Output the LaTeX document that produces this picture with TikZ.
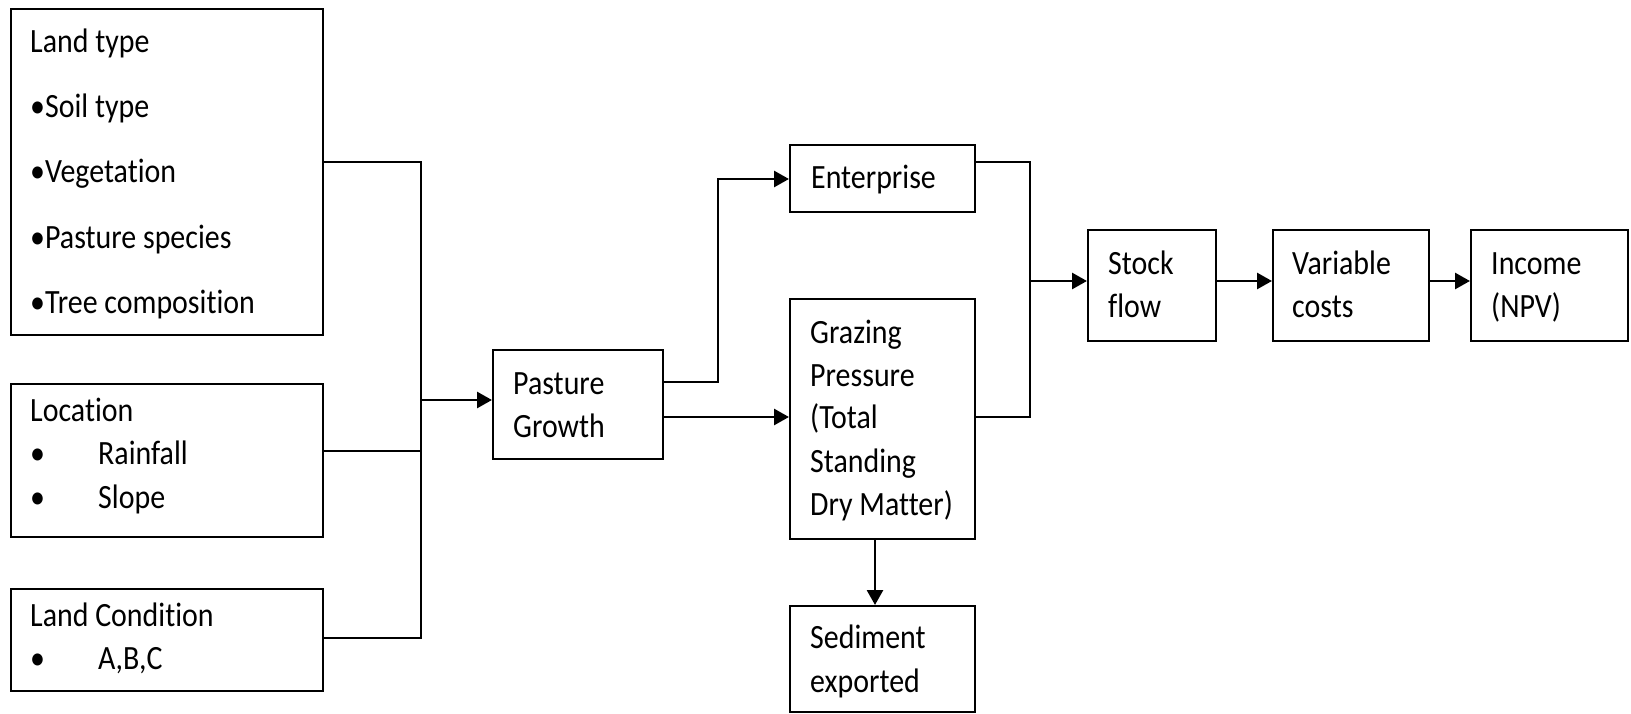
\documentclass[tikz,border=0pt]{standalone}
\usepackage{fontspec}
\setmainfont{Carlito}[FakeStretch=0.88, RawFeature={-liga}]
\usetikzlibrary{arrows.meta}
\tikzset{
  box/.style={draw=black, line width=2.3pt, fill=none, inner sep=0pt, anchor=north west},
  txt/.style={inner sep=0pt, anchor=base west, font=\fontsize{34}{40}\selectfont},
  link/.style={draw=black, line width=2.1pt},
  arr/.style={draw=black, line width=2.8pt, -{Triangle[length=15pt,width=16pt]}},
}
\newcommand{\mkbox}[5]{\node[box, minimum width=#4-#2, minimum height=#5-#3] (#1) at (#2,-#3) {};}
\begin{document}
\begin{tikzpicture}[x=1pt,y=1pt]
\useasboundingbox (0,0) rectangle (1631,-714);
% boxes
\mkbox{land}{9.5}{8}{322}{334}
\mkbox{loc}{9.5}{383}{322}{536}
\mkbox{cond}{9.5}{588}{322}{690}
\mkbox{past}{492}{349}{662}{458}
\mkbox{ent}{789}{144}{974}{211}
\mkbox{graz}{789}{298}{974}{538}
\mkbox{sed}{789}{605}{974}{711}
\mkbox{stock}{1087}{229}{1215}{340}
\mkbox{var}{1272}{229}{1428}{340}
\mkbox{inc}{1470}{229}{1627}{340}
% texts
\node[txt] (t1) at (30,-53) {Land type};
\node[txt] (t2) at (30,-118) {•Soil type};
\node[txt] (t3) at (30,-183) {•Vegetation};
\node[txt] (t4) at (30,-248) {•Pasture species};
\node[txt] (t5) at (30,-313) {•Tree composition};
\node[txt] (l1) at (30,-421) {Location};
\node[txt] (l2b) at (30,-464) {•};
\node[txt] (l2) at (98,-464) {Rainfall};
\node[txt] (l3b) at (30,-508) {•};
\node[txt] (l3) at (98,-508) {Slope};
\node[txt] (c1) at (30,-626) {Land Condition};
\node[txt] (c2b) at (30,-669) {•};
\node[txt] (c2) at (98,-669) {A,B,C};
\node[txt] (p1) at (513,-394) {Pasture};
\node[txt] (p2) at (513,-437) {Growth};
\node[txt] (e1) at (811,-189) {Enterprise};
\node[txt] (g1) at (810,-343) {Grazing};
\node[txt] (g2) at (810,-386) {Pressure};
\node[txt] (g3) at (810,-428) {(Total};
\node[txt] (g4) at (810,-472) {Standing};
\node[txt] (g5) at (810,-515) {Dry Matter)};
\node[txt] (s1) at (810,-648) {Sediment};
\node[txt] (s2) at (810,-692) {exported};
\node[txt] (k1) at (1108,-274) {Stock};
\node[txt] (k2) at (1108,-317) {flow};
\node[txt] (v1) at (1292,-274) {Variable};
\node[txt] (v2) at (1292,-317) {costs};
\node[txt] (i1) at (1491,-274) {Income};
\node[txt] (i2) at (1491,-317) {(NPV)};
% bus coordinates
\coordinate (busA) at (421,-162);
\coordinate (busB) at (421,-451);
\coordinate (busC) at (421,-638);
\coordinate (busM) at (421,-400);
\coordinate (upB) at (718,-382);
\coordinate (upT) at (718,-179);
\coordinate (lowP) at (662,-417);
\coordinate (rbT) at (1030,-162);
\coordinate (rbB) at (1030,-417);
\coordinate (rbM) at (1030,-281);
\coordinate (sedX) at (875,-538);
% connectors
\draw[link] (land.east |- busA) -- (busA) -- (busC) -- (cond.east |- busC);
\draw[link] (loc.east |- busB) -- (busB);
\draw[arr] (busM) -- (past.west |- busM);
\draw[arr] (past.east |- upB) -- (upB) -- (upT) -- (ent.west |- upT);
\draw[arr] (past.east |- lowP) -- (graz.west |- lowP);
\draw[link] (ent.east |- rbT) -- (rbT) -- (rbB) -- (graz.east |- rbB);
\draw[arr] (rbM) -- (stock.west |- rbM);
\draw[arr] (stock.east |- rbM) -- (var.west |- rbM);
\draw[arr] (var.east |- rbM) -- (inc.west |- rbM);
\draw[arr] (sedX) -- (sedX |- sed.north);
\end{tikzpicture}
\end{document}
